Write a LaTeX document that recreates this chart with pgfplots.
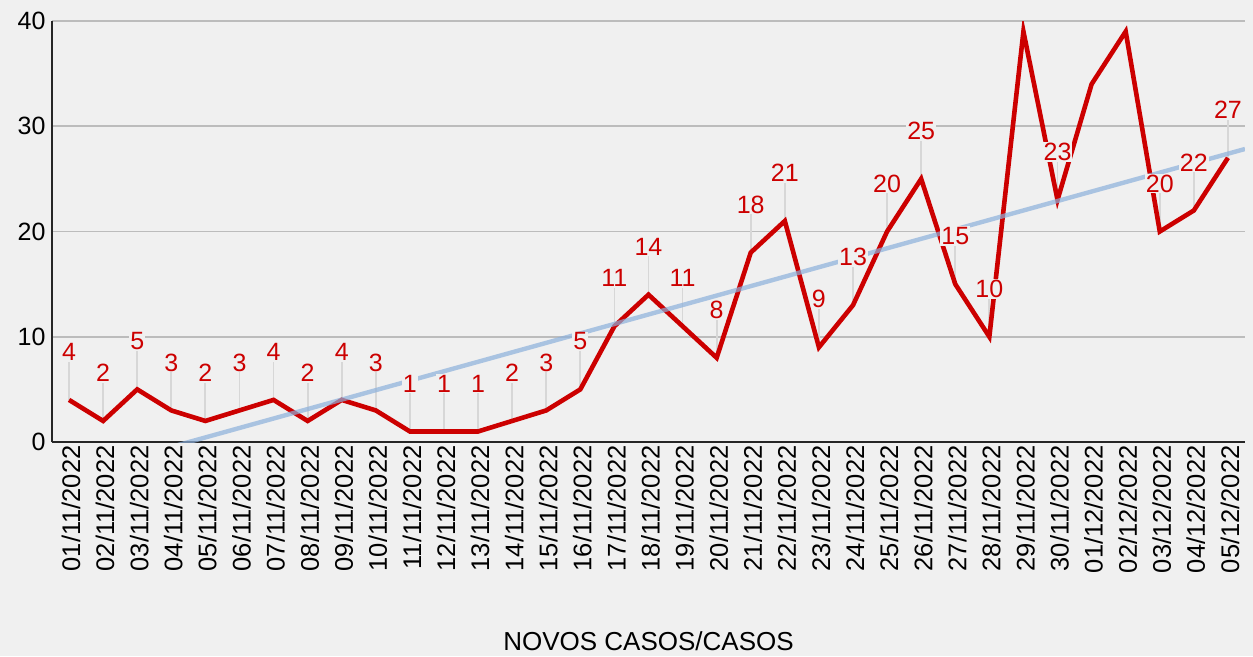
\documentclass[border=0pt]{standalone}
\usepackage{pgfplots}
\pgfplotsset{compat=1.18}
\usepackage{pgfplotstable}
\usepackage{fontspec}
\setmainfont{Liberation Sans}
\definecolor{bg}{RGB}{240,240,240}
\definecolor{redline}{RGB}{204,0,0}
\definecolor{trend}{RGB}{140,176,219}
\definecolor{gridc}{RGB}{188,188,188}
\definecolor{leader}{RGB}{215,215,215}

\pgfplotstableread{
x y
0 4
1 2
2 5
3 3
4 2
5 3
6 4
7 2
8 4
9 3
10 1
11 1
12 1
13 2
14 3
15 5
16 11
17 14
18 11
19 8
20 18
21 21
22 9
23 13
24 20
25 25
26 15
27 10
28 39
29 23
30 34
31 39
32 20
33 22
34 27
}\alldata

\pgfplotstableread{
x y
0 4
1 2
2 5
3 3
4 2
5 3
6 4
7 2
8 4
9 3
10 1
11 1
12 1
13 2
14 3
15 5
16 11
17 14
18 11
19 8
20 18
21 21
22 9
23 13
24 20
25 25
26 15
27 10
29 23
32 20
33 22
34 27
}\labeled

\pgfplotstableread{
x y
-0.5 -3.61
34.5 27.84
}\trenddata

\begin{document}
\begin{tikzpicture}
\fill[bg] (-52pt,-214pt) rectangle (1201pt,442pt);
\useasboundingbox (-52pt,-214pt) rectangle (1201pt,442pt);
\begin{axis}[
  at={(0pt,0pt)}, anchor=south west,
  scale only axis, width=1193pt, height=421pt,
  xmin=-0.5, xmax=34.5, ymin=0, ymax=40,
  axis x line=bottom, axis y line=left,
  axis line style={-, line width=2pt, black!85},
  ytick={0,10,20,30,40},
  xtick={0,...,34},
  xticklabels={01/11/2022,02/11/2022,03/11/2022,04/11/2022,05/11/2022,06/11/2022,07/11/2022,08/11/2022,09/11/2022,10/11/2022,11/11/2022,12/11/2022,13/11/2022,14/11/2022,15/11/2022,16/11/2022,17/11/2022,18/11/2022,19/11/2022,20/11/2022,21/11/2022,22/11/2022,23/11/2022,24/11/2022,25/11/2022,26/11/2022,27/11/2022,28/11/2022,29/11/2022,30/11/2022,01/12/2022,02/12/2022,03/12/2022,04/12/2022,05/12/2022},
  major tick length=0pt,
  ymajorgrids,
  major grid style={gridc, line width=1.8pt},
  /pgf/number format/assume math mode=true,
  yticklabel style={font=\fontsize{25}{30}\selectfont, black, xshift=-3pt},
  xticklabel style={font=\fontsize{25.5}{30}\selectfont, black, rotate=90, anchor=east, yshift=-2pt},
  xlabel={NOVOS CASOS/CASOS},
  xlabel style={font=\fontsize{26}{30}\selectfont, black, at={(axis description cs:0.5,0)}, anchor=center, yshift=-199pt},
  clip=true,
]
\addplot[leader, only marks, mark=*, mark size=0pt, forget plot,
  error bars/.cd, y dir=plus, y fixed=3.7, error mark=none,
  error bar style={leader, line width=1.8pt}] table {\labeled};
\addplot[redline, line width=4.6pt, mark=none, line join=miter] table {\alldata};
\addplot[trend, line width=4.4pt, opacity=0.7, mark=none] table {\trenddata};
\addplot[draw=none, mark=none, nodes near coords, point meta=y,
  every node near coord/.style={anchor=center, yshift=48pt, fill=bg, inner sep=1pt, text=redline, font=\fontsize{25}{30}\selectfont}] table {\labeled};
\end{axis}
\end{tikzpicture}
\end{document}
